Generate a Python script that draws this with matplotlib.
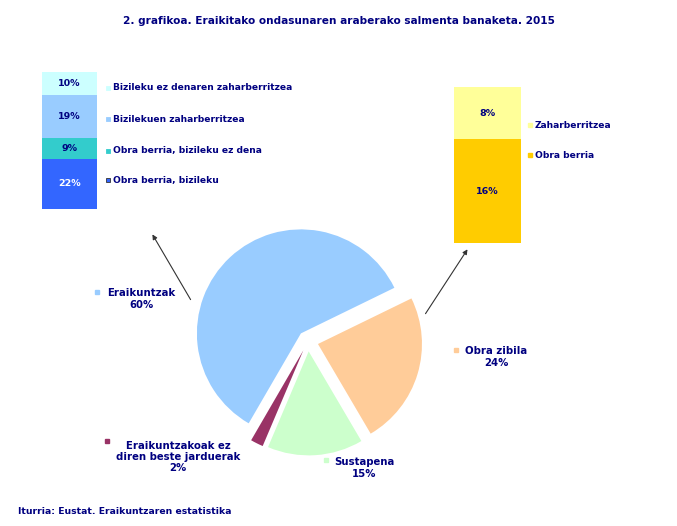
import matplotlib
matplotlib.use("Agg")
import matplotlib.pyplot as plt

# ---- data ----
pie_labels = ["Eraikuntzak", "Eraikuntzakoak ez\ndiren beste jarduerak", "Sustapena", "Obra zibila"]
pie_values = [60, 2, 15, 24]
pie_colors = ["#99CCFF", "#993366", "#CCFFCC", "#FFCC99"]

left_labels = ["Obra berria, bizileku", "Obra berria, bizileku ez dena",
               "Bizilekuen zaharberritzea", "Bizileku ez denaren zaharberritzea"]
left_values = [22, 9, 19, 10]
left_colors = ["#3366FF", "#33CCCC", "#99CCFF", "#CCFFFF"]
left_text_colors = ["white", "#000080", "#000080", "#000080"]

right_labels = ["Obra berria", "Zaharberritzea"]
right_values = [16, 8]
right_colors = ["#FFCC00", "#FFFF99"]

title = "2. grafikoa. Eraikitako ondasunaren araberako salmenta banaketa. 2015"
source = "Iturria: Eustat. Eraikuntzaren estatistika"

NAVY = "#000080"
W, H = 677, 526
fig = plt.figure(figsize=(W / 100, H / 100), dpi=100)
fig.patch.set_facecolor("white")

def px_axes(x0, y0, x1, y1):
    return fig.add_axes([x0 / W, (H - y1) / H, (x1 - x0) / W, (y1 - y0) / H])

# ---- pie ----
R = 104
cx, cy = 308, 341
half = 1.3 * R
axp = px_axes(cx - half, cy - half, cx + half, cy + half)
axp.pie(pie_values, colors=pie_colors, startangle=26, counterclock=True,
        explode=[0.1] * len(pie_values), wedgeprops=dict(linewidth=0))
axp.set_xlim(-1.3, 1.3)
axp.set_ylim(-1.3, 1.3)
axp.set_aspect("equal")
axp.axis("off")

# ---- left stacked bar ----
axl = px_axes(42, 72, 97, 209)
bottom = 0
for v, c, tc in zip(left_values, left_colors, left_text_colors):
    axl.bar(0, v, bottom=bottom, width=1, color=c, linewidth=0)
    axl.text(0, bottom + v / 2, f"{v}%", ha="center", va="center",
             color=tc, fontsize=6.8, fontweight="bold")
    bottom += v
axl.set_xlim(-0.5, 0.5)
axl.set_ylim(0, sum(left_values))
axl.axis("off")

# ---- right stacked bar ----
axr = px_axes(454, 87, 521, 243)
bottom = 0
for v, c in zip(right_values, right_colors):
    axr.bar(0, v, bottom=bottom, width=1, color=c, linewidth=0)
    axr.text(0, bottom + v / 2, f"{v}%", ha="center", va="center",
             color=NAVY, fontsize=6.8, fontweight="bold")
    bottom += v
axr.set_xlim(-0.5, 0.5)
axr.set_ylim(0, sum(right_values))
axr.axis("off")

# ---- overlay for text / arrows ----
ov = fig.add_axes([0, 0, 1, 1], zorder=5)
ov.set_xlim(0, W)
ov.set_ylim(H, 0)
ov.axis("off")
ov.patch.set_alpha(0)

ov.text(339, 21, title, ha="center", va="center", color=NAVY,
        fontsize=7.6, fontweight="bold")
ov.text(18, 511, source, ha="left", va="center", color=NAVY,
        fontsize=6.7, fontweight="bold")

fs = 6.6
# left bar legend
left_legend_y = [180, 151, 119, 88]
for lab, c, y in zip(left_labels, left_colors, left_legend_y):
    ec = "#333333" if c == "#3366FF" else c
    ov.plot(108, y, marker="s", ms=3.5, color=c, mec=ec, mew=0.6)
    ov.text(113, y, lab, ha="left", va="center", color=NAVY, fontsize=fs, fontweight="bold")

# right bar legend
right_legend_y = [155, 125]
for lab, c, y in zip(right_labels, right_colors, right_legend_y):
    ov.plot(530, y, marker="s", ms=3.5, color=c, mec=c)
    ov.text(535, y, lab, ha="left", va="center", color=NAVY, fontsize=fs, fontweight="bold")

# pie labels
pie_label_pos = [(141, 299, 97, 292), (178, 457, 107, 441), (364, 468, 326, 460), (496, 357, 456, 350)]
for lab, v, c, (tx, ty, sx, sy) in zip(pie_labels, pie_values, pie_colors, pie_label_pos):
    ov.plot(sx, sy, marker="s", ms=3.5, color=c, mec=c)
    ov.text(tx, ty, f"{lab}\n{v}%", ha="center", va="center", color=NAVY,
            fontsize=7.3, fontweight="bold", linespacing=1.15)

# arrows
ov.annotate("", xy=(151, 232), xytext=(192, 302),
            arrowprops=dict(arrowstyle="-|>", color="#333333", lw=0.8, mutation_scale=7))
ov.annotate("", xy=(469, 247), xytext=(424, 316),
            arrowprops=dict(arrowstyle="-|>", color="#333333", lw=0.8, mutation_scale=7))

fig.savefig("out.png", dpi=100, facecolor="white")
